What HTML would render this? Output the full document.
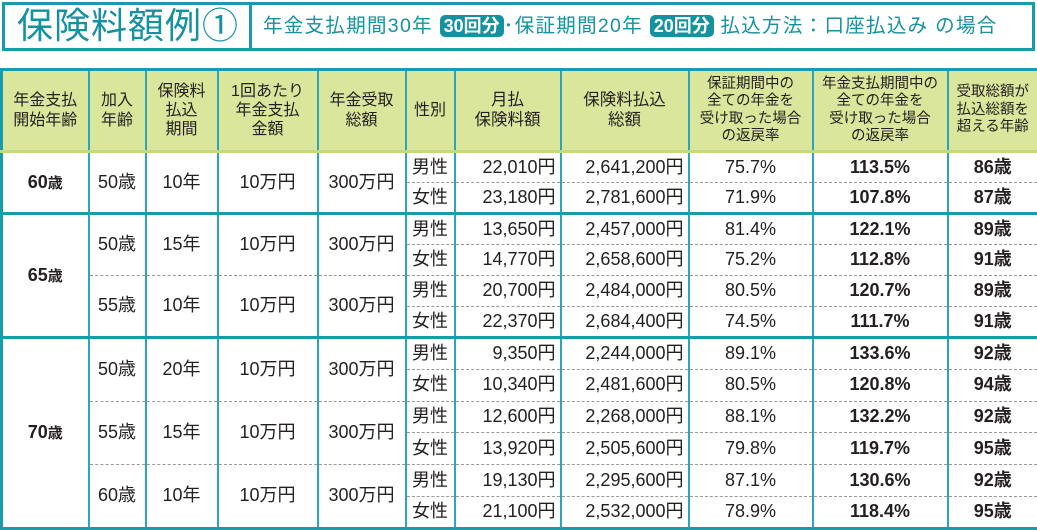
<!DOCTYPE html>
<html><head><meta charset="utf-8"><style>
*{margin:0;padding:0;box-sizing:border-box}
body{width:1037px;height:530px;background:#fff;position:relative;overflow:hidden;font-family:"Liberation Sans","Noto Sans CJK JP",sans-serif;color:#231f20}
.tb{position:absolute;left:2px;top:2px;width:1033px;height:49px;border:3px solid #1b9aaa}
.tb .t{position:absolute;left:12px;top:-3px;font-size:36px;color:#1592a0;letter-spacing:1px;line-height:48px}
.tb .dv{position:absolute;left:244px;top:0;width:3px;height:43px;background:#1b9aaa}
.tb .s{position:absolute;left:258px;top:0;line-height:43px;font-size:19.5px;color:#1592a0;white-space:nowrap;letter-spacing:1.3px}
.bd{display:inline-block;background:#1592a0;color:#fff;border-radius:5px;padding:0 4px;line-height:22px;font-weight:bold;font-size:18px;letter-spacing:0}
table{position:absolute;left:0;top:68px;width:1037px;border-collapse:collapse;table-layout:fixed;border:3px solid #1b9aaa}
td,th{text-align:center;font-size:18px;font-weight:normal;border-left:2px solid #2aa6b8;border-right:2px solid #2aa6b8;padding:0;white-space:nowrap;line-height:1.2}
th{background:#d9e69b;font-size:16px;height:82px;border-bottom:3px solid #c5d97a}
td{height:31px}
.g td{border-top:3px solid #1b9aaa}
.dt td{border-top:1px dashed #999}
.dg td{border-top:1px dashed #999}
.gs{border-left:1px solid #2aa6b8;border-right:1px solid #2aa6b8}
.r{text-align:right;padding-right:4px}
.b{font-weight:bold}
.h td{height:31.8px}
</style></head><body>
<div class="tb"><div class="t">保険料額例①</div><div class="dv"></div>
<div class="s">年金支払期間30年 <span class="bd">30回分</span>･保証期間20年 <span class="bd">20回分</span> 払込方法：口座払込み の場合</div></div>
<table>
<colgroup><col style="width:87px"><col style="width:57px"><col style="width:72px"><col style="width:100px"><col style="width:88px"><col style="width:49px"><col style="width:106px"><col style="width:128px"><col style="width:124px"><col style="width:135px"><col style="width:91px"></colgroup>
<tr><th>年金支払<br>開始年齢</th><th>加入<br>年齢</th><th>保険料<br>払込<br>期間</th><th>1回あたり<br>年金支払<br>金額</th><th>年金受取<br>総額</th><th>性別</th><th style="font-size:16.5px">月払<br>保険料額</th><th style="font-size:16.5px">保険料払込<br>総額</th><th style="font-size:14.5px">保証期間中の<br>全ての年金を<br>受け取った場合<br>の返戻率</th><th style="font-size:14.5px">年金支払期間中の<br>全ての年金を<br>受け取った場合<br>の返戻率</th><th style="font-size:14.5px">受取総額が<br>払込総額を<br>超える年齢</th></tr>
<tr class="g"><td rowspan="2" class="b">60<small>歳</small></td><td rowspan="2">50歳</td><td rowspan="2">10年</td><td rowspan="2">10万円</td><td rowspan="2">300万円</td><td class="gs">男性</td><td class="r">22,010円</td><td class="r">2,641,200円</td><td>75.7%</td><td class="b">113.5%</td><td class="b">86歳</td></tr>
<tr class="dg"><td class="gs">女性</td><td class="r">23,180円</td><td class="r">2,781,600円</td><td>71.9%</td><td class="b">107.8%</td><td class="b">87歳</td></tr>
<tr class="g"><td rowspan="4" class="b">65<small>歳</small></td><td rowspan="2">50歳</td><td rowspan="2">15年</td><td rowspan="2">10万円</td><td rowspan="2">300万円</td><td class="gs">男性</td><td class="r">13,650円</td><td class="r">2,457,000円</td><td>81.4%</td><td class="b">122.1%</td><td class="b">89歳</td></tr>
<tr class="dg"><td class="gs">女性</td><td class="r">14,770円</td><td class="r">2,658,600円</td><td>75.2%</td><td class="b">112.8%</td><td class="b">91歳</td></tr>
<tr class="dt"><td rowspan="2">55歳</td><td rowspan="2">10年</td><td rowspan="2">10万円</td><td rowspan="2">300万円</td><td class="gs">男性</td><td class="r">20,700円</td><td class="r">2,484,000円</td><td>80.5%</td><td class="b">120.7%</td><td class="b">89歳</td></tr>
<tr class="dg"><td class="gs">女性</td><td class="r">22,370円</td><td class="r">2,684,400円</td><td>74.5%</td><td class="b">111.7%</td><td class="b">91歳</td></tr>
<tr class="g h"><td rowspan="6" class="b">70<small>歳</small></td><td rowspan="2">50歳</td><td rowspan="2">20年</td><td rowspan="2">10万円</td><td rowspan="2">300万円</td><td class="gs">男性</td><td class="r">9,350円</td><td class="r">2,244,000円</td><td>89.1%</td><td class="b">133.6%</td><td class="b">92歳</td></tr>
<tr class="dg h"><td class="gs">女性</td><td class="r">10,340円</td><td class="r">2,481,600円</td><td>80.5%</td><td class="b">120.8%</td><td class="b">94歳</td></tr>
<tr class="dt h"><td rowspan="2">55歳</td><td rowspan="2">15年</td><td rowspan="2">10万円</td><td rowspan="2">300万円</td><td class="gs">男性</td><td class="r">12,600円</td><td class="r">2,268,000円</td><td>88.1%</td><td class="b">132.2%</td><td class="b">92歳</td></tr>
<tr class="dg h"><td class="gs">女性</td><td class="r">13,920円</td><td class="r">2,505,600円</td><td>79.8%</td><td class="b">119.7%</td><td class="b">95歳</td></tr>
<tr class="dt h"><td rowspan="2">60歳</td><td rowspan="2">10年</td><td rowspan="2">10万円</td><td rowspan="2">300万円</td><td class="gs">男性</td><td class="r">19,130円</td><td class="r">2,295,600円</td><td>87.1%</td><td class="b">130.6%</td><td class="b">92歳</td></tr>
<tr class="dg h"><td class="gs">女性</td><td class="r">21,100円</td><td class="r">2,532,000円</td><td>78.9%</td><td class="b">118.4%</td><td class="b">95歳</td></tr>
</table>
</body></html>
